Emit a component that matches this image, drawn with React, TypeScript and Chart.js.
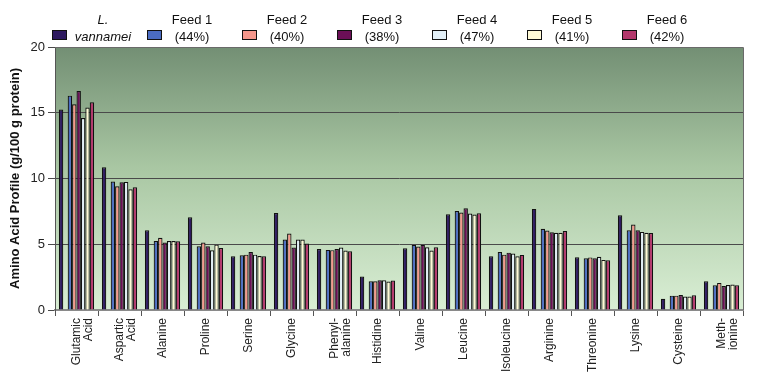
import React, { useEffect, useRef } from "react";
import { Chart, registerables } from "chart.js";

Chart.register(...registerables);

const categories: (string | string[])[] = [
  ["Glutamic", "Acid"], ["Aspartic", "Acid"], "Alanine", "Proline", "Serine", "Glycine",
  ["Phenyl-", "alanine"], "Histidine", "Valine", "Leucine", "Isoleucine", "Arginine",
  "Threonine", "Lysine", "Cysteine", ["Meth-", "ionine"],
];

const vannamei = [15.25, 10.86, 6.07, 7.05, 4.09, 7.38, 4.64, 2.54, 4.7, 7.28, 4.09, 7.69, 4.01, 7.2, 0.86, 2.18];
const feed1 = [16.3, 9.77, 5.25, 4.85, 4.16, 5.36, 4.57, 2.18, 4.95, 7.53, 4.41, 6.17, 3.93, 6.06, 1.09, 1.88];
const feed2 = [15.65, 9.41, 5.5, 5.13, 4.21, 5.81, 4.55, 2.18, 4.82, 7.41, 4.21, 6.04, 4.0, 6.5, 1.09, 2.06];
const feed3 = [16.65, 9.72, 5.13, 4.85, 4.41, 4.75, 4.64, 2.26, 4.95, 7.74, 4.36, 5.91, 3.93, 6.06, 1.14, 1.83];
const feed4 = [14.6, 9.74, 5.25, 4.54, 4.21, 5.36, 4.75, 2.26, 4.77, 7.33, 4.29, 5.88, 4.04, 5.94, 1.02, 1.9];
const feed5 = [15.4, 9.18, 5.25, 4.97, 4.11, 5.36, 4.52, 2.16, 4.52, 7.26, 4.09, 5.88, 3.81, 5.88, 1.02, 1.93];
const feed6 = [15.8, 9.34, 5.22, 4.72, 4.09, 5.05, 4.47, 2.24, 4.77, 7.36, 4.19, 6.01, 3.78, 5.86, 1.12, 1.88];

const seriesNames: string[][] = [
  ["L.", "vannamei"], ["Feed 1", "(44%)"], ["Feed 2", "(40%)"], ["Feed 3", "(38%)"],
  ["Feed 4", "(47%)"], ["Feed 5", "(41%)"], ["Feed 6", "(42%)"],
];
const seriesData = [vannamei, feed1, feed2, feed3, feed4, feed5, feed6];
const seriesColors = ["#2e1a60", "#4b6cc2", "#f5978c", "#6b0f57", "#e2eff7", "#fffad6", "#b3386c"];

const FONT = "'Liberation Sans', Arial, sans-serif";

const bgPlugin = {
  id: "bgPlugin",
  beforeDraw(chart: any) {
    const { ctx, chartArea } = chart;
    if (!chartArea) return;
    const g = ctx.createLinearGradient(0, chartArea.top, 0, chartArea.bottom);
    g.addColorStop(0, "#738f74");
    g.addColorStop(0.45, "#a8c6a2");
    g.addColorStop(1, "#d9eed4");
    ctx.save();
    ctx.fillStyle = g;
    ctx.fillRect(chartArea.left, chartArea.top, chartArea.right - chartArea.left, chartArea.bottom - chartArea.top);
    ctx.restore();
  },
  afterDraw(chart: any) {
    const { ctx, chartArea } = chart;
    ctx.save();
    ctx.strokeStyle = "#6a6a6a";
    ctx.lineWidth = 1;
    ctx.beginPath();
    ctx.moveTo(chartArea.left, chartArea.top + 0.5);
    ctx.lineTo(chartArea.right + 0.5, chartArea.top + 0.5);
    ctx.lineTo(chartArea.right + 0.5, chartArea.bottom);
    ctx.stroke();
    // custom legend
    ctx.textAlign = "center";
    ctx.textBaseline = "middle";
    for (let i = 0; i < seriesNames.length; i++) {
      const bx = 52 + i * 95;
      ctx.fillStyle = seriesColors[i];
      ctx.fillRect(bx, 30, 14, 9);
      ctx.strokeStyle = "#111";
      ctx.strokeRect(bx + 0.5, 30.5, 14, 9);
      ctx.fillStyle = "#111";
      ctx.font = i === 0 ? `italic 13px ${FONT}` : `13px ${FONT}`;
      const tx = bx + (i === 0 ? 51 : 45);
      ctx.fillText(seriesNames[i][0], tx, 20);
      ctx.fillText(seriesNames[i][1], tx, 37);
    }
    ctx.restore();
  },
};

export default function App() {
  const ref = useRef<HTMLCanvasElement>(null);
  useEffect(() => {
    if (!ref.current) return;
    const datasets: any[] = [];
    seriesData.forEach((d, i) => {
      datasets.push({
        label: seriesNames[i].join(" "),
        data: d,
        backgroundColor: seriesColors[i],
        borderColor: "#111",
        borderWidth: 1.2,
      });
      if (i === 0) {
        datasets.push({ label: "", data: d.map(() => null), backgroundColor: "transparent", borderWidth: 0 });
      }
    });
    const chart = new Chart(ref.current, {
      type: "bar",
      data: { labels: categories as any, datasets },
      options: {
        animation: false,
        responsive: true,
        maintainAspectRatio: false,
        layout: { padding: { top: 47, right: 25, left: 0, bottom: 0 } },
        datasets: { bar: { barPercentage: 1.0, categoryPercentage: 0.82 } },
        plugins: { legend: { display: false }, tooltip: { enabled: false } },
        scales: {
          x: {
            grid: { offset: true, drawOnChartArea: false, tickLength: 6, color: "#555" },
            border: { color: "#8a8a8a", width: 2 },
            ticks: {
              autoSkip: false, minRotation: 90, maxRotation: 90, padding: 2,
              color: "#222", font: { family: FONT, size: 12, lineHeight: 1.0 },
            },
            afterFit: (s: any) => { s.height = 64; },
          },
          y: {
            min: 0, max: 20,
            ticks: { stepSize: 5, padding: 3, color: "#222", font: { family: FONT, size: 13 } },
            grid: { color: "#4a4a4a", tickLength: 7, lineWidth: 1 },
            border: { color: "#555" },
            title: {
              display: true, text: "Amino Acid Profile (g/100 g protein)", color: "#111",
              font: { family: FONT, size: 13, weight: "bold" }, padding: { top: 8, bottom: 0 },
            },
            afterFit: (s: any) => { s.width = 55; },
          },
        },
      },
      plugins: [bgPlugin],
    });
    return () => chart.destroy();
  }, []);
  return (
    <div style={{ position: "absolute", left: 0, top: 0, width: 768, height: 374, background: "#fff" }}>
      <canvas ref={ref} />
    </div>
  );
}
